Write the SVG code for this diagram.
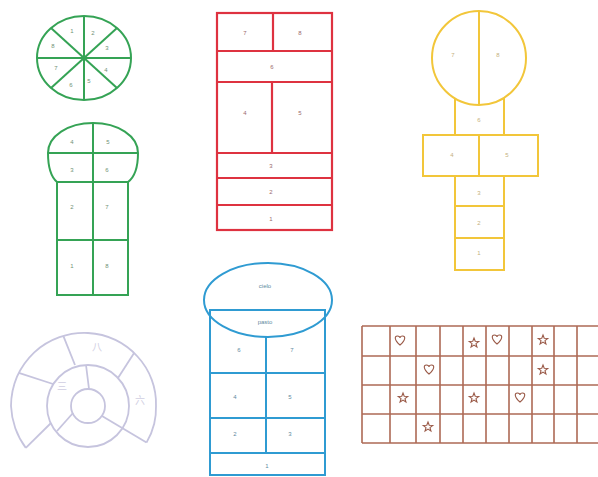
<svg xmlns="http://www.w3.org/2000/svg" width="598" height="477" viewBox="0 0 598 477">
<style>
.g{fill:none;stroke:#35a355;stroke-width:2}
.r{fill:none;stroke:#de3240;stroke-width:2.2}
.y{fill:none;stroke:#f2c63a;stroke-width:2}
.b{fill:none;stroke:#2f9bd2;stroke-width:2}
.l{fill:none;stroke:#c6c4de;stroke-width:1.8}
.br{fill:none;stroke:#ad6a55;stroke-width:1.6}
text{font-family:"Liberation Sans",Arial,sans-serif;font-size:6px;text-anchor:middle;dominant-baseline:middle}
.tg{fill:#6f9276}.tr{fill:#9a6a6e}.ty{fill:#c4b07e}.tb{fill:#5f8aa0}
.tl{fill:#d0cee2;font-family:"Liberation Sans","Noto Sans CJK SC",sans-serif;font-size:10px}
</style>
<defs>
<path id="heart" d="M0,4 C-6,-1 -5.5,-5 -2.7,-5 C-1.2,-5 0,-4 0,-3 C0,-4 1.2,-5 2.7,-5 C5.5,-5 6,-1 0,4 Z" fill="none" stroke="#9a5a48" stroke-width="1.1"/>
<polygon id="star" points="0,-5 1.23,-1.7 4.76,-1.55 2,0.65 2.94,4.05 0,2.1 -2.94,4.05 -2,0.65 -4.76,-1.55 -1.23,-1.7" fill="none" stroke="#9a5a48" stroke-width="1.1"/>
</defs>

<g id="green-circle">
<ellipse class="g" cx="84" cy="58" rx="47" ry="42"/>
<line class="g" x1="84" y1="16" x2="84" y2="100"/>
<line class="g" x1="37" y1="58" x2="131" y2="58"/>
<line class="g" x1="51" y1="28" x2="117" y2="88"/>
<line class="g" x1="117" y1="28" x2="51" y2="88"/>
<circle cx="84" cy="58" r="2.5" fill="#35a355"/>
<text class="tg" x="72" y="31">1</text><text class="tg" x="93" y="33">2</text>
<text class="tg" x="107" y="48">3</text><text class="tg" x="106" y="70">4</text>
<text class="tg" x="89" y="81">5</text><text class="tg" x="71" y="85">6</text>
<text class="tg" x="56" y="68">7</text><text class="tg" x="53" y="46">8</text>
</g>

<g id="green-hopscotch">
<path class="g" d="M57,182 C50,176 48,165 48,153 C48,136 68,123 93,123 C118,123 138,136 138,153 C138,165 136,176 128,182"/>
<line class="g" x1="48" y1="153" x2="138" y2="153"/>
<rect class="g" x="57" y="182" width="71" height="113"/>
<line class="g" x1="57" y1="240" x2="128" y2="240"/>
<line class="g" x1="93" y1="123" x2="93" y2="295"/>
<text class="tg" x="72" y="142">4</text><text class="tg" x="108" y="142">5</text>
<text class="tg" x="72" y="170">3</text><text class="tg" x="107" y="170">6</text>
<text class="tg" x="72" y="207">2</text><text class="tg" x="107" y="207">7</text>
<text class="tg" x="72" y="266">1</text><text class="tg" x="107" y="266">8</text>
</g>

<g id="red-hopscotch">
<rect class="r" x="217" y="13" width="115" height="217"/>
<line class="r" x1="217" y1="51" x2="332" y2="51"/>
<line class="r" x1="217" y1="82" x2="332" y2="82"/>
<line class="r" x1="217" y1="153" x2="332" y2="153"/>
<line class="r" x1="217" y1="178" x2="332" y2="178"/>
<line class="r" x1="217" y1="205" x2="332" y2="205"/>
<line class="r" x1="273" y1="13" x2="273" y2="51"/>
<line class="r" x1="272" y1="82" x2="272" y2="153"/>
<text class="tr" x="245" y="33">7</text><text class="tr" x="300" y="33">8</text>
<text class="tr" x="272" y="67">6</text>
<text class="tr" x="245" y="113">4</text><text class="tr" x="300" y="113">5</text>
<text class="tr" x="271" y="166">3</text><text class="tr" x="271" y="192">2</text><text class="tr" x="271" y="219">1</text>
</g>

<g id="yellow-hopscotch">
<circle class="y" cx="479" cy="58" r="47"/>
<line class="y" x1="479" y1="11" x2="479" y2="105"/>
<line class="y" x1="455" y1="98" x2="455" y2="135"/>
<line class="y" x1="504" y1="98" x2="504" y2="135"/>
<rect class="y" x="423" y="135" width="115" height="41"/>
<line class="y" x1="479" y1="135" x2="479" y2="176"/>
<rect class="y" x="455" y="176" width="49" height="94"/>
<line class="y" x1="455" y1="206" x2="504" y2="206"/>
<line class="y" x1="455" y1="238" x2="504" y2="238"/>
<text class="ty" x="453" y="55">7</text><text class="ty" x="498" y="55">8</text>
<text class="ty" x="479" y="120">6</text>
<text class="ty" x="452" y="155">4</text><text class="ty" x="507" y="155">5</text>
<text class="ty" x="479" y="193">3</text><text class="ty" x="479" y="223">2</text><text class="ty" x="479" y="253">1</text>
</g>

<g id="lavender-spiral">
<path class="l" d="M146.5,442.6 A68.7,68.7 0 0 0 154.2,423.7 A68.2,68.2 0 0 0 156,406 A68.5,68.5 0 0 0 151.7,379.6 A69.5,69.5 0 0 0 137.5,356.5 A70.7,70.7 0 0 0 115.4,339.9 A72.2,72.2 0 0 0 88,333 A73.7,73.7 0 0 0 59.5,337.2 A75.2,75.2 0 0 0 34.3,352.3 A76.4,76.4 0 0 0 17,376.6 A76.9,76.9 0 0 0 11,406 A76.5,76.5 0 0 0 15.3,428.2 A75.5,75.5 0 0 0 25.8,447.9"/>
<circle class="l" cx="88" cy="406" r="41"/>
<circle class="l" cx="88" cy="406" r="17"/>
<line class="l" x1="18.8" y1="372.9" x2="53" y2="384"/>
<line class="l" x1="63.3" y1="335.9" x2="75" y2="365"/>
<line class="l" x1="134.1" y1="352.9" x2="118" y2="378"/>
<line class="l" x1="102" y1="416" x2="146.5" y2="442.6"/>
<line class="l" x1="25.8" y1="447.9" x2="51" y2="423"/>
<line class="l" x1="86" y1="365" x2="89" y2="389"/>
<line class="l" x1="73" y1="413" x2="57" y2="431"/>
<text class="tl" x="97" y="348">八</text>
<text class="tl" x="62" y="387">三</text>
<text class="tl" x="140" y="401">六</text>
</g>

<g id="blue-hopscotch">
<rect class="b" x="210" y="310" width="115" height="165"/>
<ellipse class="b" cx="268" cy="300" rx="64" ry="37"/>
<line class="b" x1="266" y1="336" x2="266" y2="453"/>
<line class="b" x1="210" y1="373" x2="325" y2="373"/>
<line class="b" x1="210" y1="418" x2="325" y2="418"/>
<line class="b" x1="210" y1="453" x2="325" y2="453"/>
<text class="tb" x="265" y="286">cielo</text>
<text class="tb" x="265" y="322">pasto</text>
<text class="tb" x="239" y="350">6</text><text class="tb" x="292" y="350">7</text>
<text class="tb" x="235" y="397">4</text><text class="tb" x="290" y="397">5</text>
<text class="tb" x="235" y="434">2</text><text class="tb" x="290" y="434">3</text>
<text class="tb" x="267" y="466">1</text>
</g>

<g id="brown-grid">
<path class="br" d="M362,326H600M362,356H600M362,385H600M362,414H600M362,443H600"/>
<path class="br" d="M362,326V443M390,326V443M416,326V443M440,326V443M463,326V443M486,326V443M509,326V443M532,326V443M554,326V443M577,326V443"/>
<use href="#heart" x="400" y="341"/>
<use href="#star" x="474" y="343"/>
<use href="#heart" x="497" y="340"/>
<use href="#star" x="543" y="340"/>
<use href="#heart" x="429" y="370"/>
<use href="#star" x="543" y="370"/>
<use href="#star" x="403" y="398"/>
<use href="#star" x="474" y="398"/>
<use href="#heart" x="520" y="398"/>
<use href="#star" x="428" y="427"/>
</g>
</svg>
